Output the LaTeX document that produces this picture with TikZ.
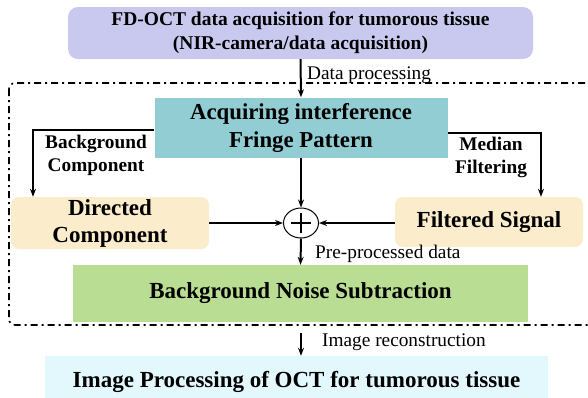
\documentclass[tikz,border=0pt]{standalone}
\usepackage{fontspec}
\setmainfont{Liberation Serif}
\usetikzlibrary{arrows.meta,shapes.geometric,calc}
\definecolor{lav}{HTML}{C9C9EF}
\definecolor{cyanbox}{HTML}{92CDD4}
\definecolor{beige}{HTML}{FBECCC}
\definecolor{greenbox}{HTML}{B9DE93}
\definecolor{paleblue}{HTML}{E2F8FC}
\tikzset{
  box/.style={draw=none,inner sep=0pt,align=center,font=\fontsize{23}{27}\selectfont\bfseries},
  conn/.style={line width=2pt,-{Stealth[length=8pt,width=6pt]}},
  lbl/.style={inner sep=0pt,font=\fontsize{19.3}{23}\selectfont},
  blbl/.style={inner sep=0pt,align=center,font=\fontsize{19.3}{23}\selectfont\bfseries},
  dashdot/.style={line width=1.6pt,dash pattern=on 7pt off 4pt on 2pt off 4pt}
}
\begin{document}
\begin{tikzpicture}[x=1pt,y=-1pt]
\useasboundingbox (0,0) rectangle (588,397);
\draw[dashdot,rounded corners=6pt] (9,83) rectangle (640,325);
\node[box,fill=lav,rounded corners=10pt,minimum width=465pt,minimum height=52pt,font=\fontsize{19.5}{24}\selectfont\bfseries] (top) at (300.5,33) {FD-OCT data acquisition for tumorous tissue\\(NIR-camera/data acquisition)};
\node[box,fill=cyanbox,minimum width=293pt,minimum height=60pt,font=\fontsize{22.8}{28}\selectfont\bfseries] (acq) at (301,127.5) {Acquiring interference\\Fringe Pattern};
\node[box,fill=beige,rounded corners=8pt,minimum width=198pt,minimum height=52pt] (dir) at (110,223) {Directed\\Component};
\node[box,fill=beige,rounded corners=8pt,minimum width=188pt,minimum height=50pt] (filt) at (489,222) {Filtered Signal};
\node[draw,ellipse,line width=1pt,minimum width=35pt,minimum height=30pt,inner sep=0pt] (sum) at (301,223) {};
\draw[line width=2.4pt] ($(sum.center)+(-10,0)$) -- ($(sum.center)+(10,0)$);
\draw[line width=2.4pt] ($(sum.center)+(0,-10)$) -- ($(sum.center)+(0,10)$);
\node[box,fill=greenbox,minimum width=455pt,minimum height=57pt] (bns) at (300.5,293.5) {Background Noise Subtraction};
\node[box,fill=paleblue,minimum width=503pt,minimum height=52pt] (ipo) at (296.5,382) {Image Processing of OCT for tumorous tissue};
\coordinate (lc) at (33,130);
\coordinate (rc) at (541,133);
\coordinate (rs) at (301,333);
\draw[conn] (top.south) -- (acq.north);
\draw[conn] (acq.west|-lc) -- (lc) -- (lc|-dir.north);
\draw[conn] (acq.east|-rc) -- (rc) -- (rc|-filt.north);
\draw[conn] (acq.south) -- (sum.north);
\draw[conn] (dir.east|-sum) -- (sum.west);
\draw[conn] (filt.west|-sum) -- (sum.east);
\draw[conn] (sum.south) -- (bns.north);
\draw[conn] (rs) -- (rs|-ipo.north);
\node[lbl,anchor=west] (dp) at (307,75) {Data processing};
\node[blbl] (bc) at (96,155.5) {Background\\Component};
\node[blbl] (mf) at (491,157) {Median\\Filtering};
\node[lbl,anchor=west] (ppd) at (315,254) {Pre-processed data};
\node[lbl,anchor=west] (ir) at (322,342) {Image reconstruction};
\end{tikzpicture}
\end{document}
